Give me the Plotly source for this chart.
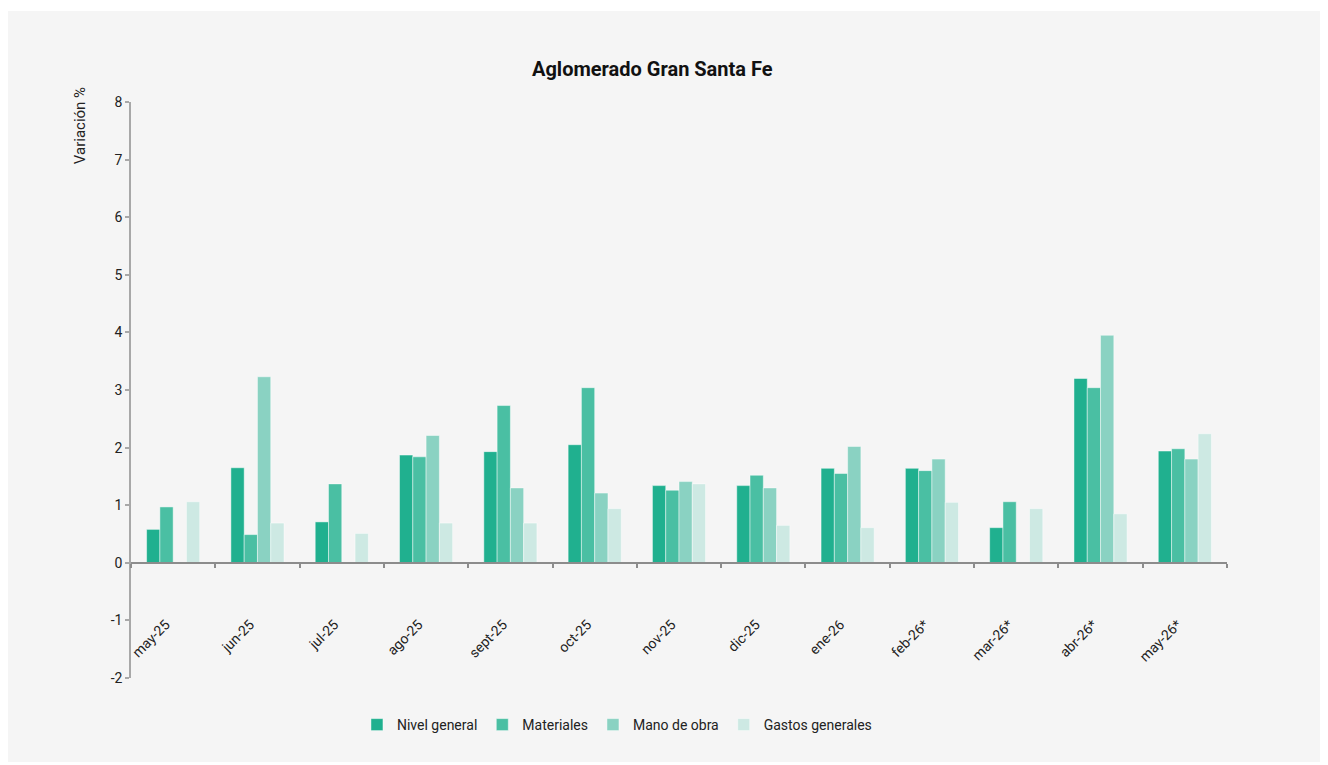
import plotly.graph_objects as go

categorias = ["may-25", "jun-25", "jul-25", "ago-25", "sept-25", "oct-25", "nov-25",
              "dic-25", "ene-26", "feb-26*", "mar-26*", "abr-26*", "may-26*"]
nivel_general = [0.58, 1.65, 0.71, 1.87, 1.93, 2.05, 1.34, 1.34, 1.64, 1.64, 0.61, 3.20, 1.94]
materiales = [0.97, 0.49, 1.37, 1.84, 2.73, 3.04, 1.26, 1.52, 1.55, 1.60, 1.06, 3.04, 1.98]
mano_de_obra = [None, 3.23, None, 2.21, 1.30, 1.21, 1.41, 1.30, 2.02, 1.80, None, 3.95, 1.80]
gastos_generales = [1.06, 0.69, 0.51, 0.69, 0.69, 0.94, 1.37, 0.65, 0.61, 1.05, 0.94, 0.85, 2.24]
y_ticks = [-2, -1, 0, 1, 2, 3, 4, 5, 6, 7, 8]
y_tick_labels = ["-2", "-1", "0", "1", "2", "3", "4", "5", "6", "7", "8"]

series = [
    ("Nivel general", nivel_general, "#20B08F"),
    ("Materiales", materiales, "#4ABFA3"),
    ("Mano de obra", mano_de_obra, "#8AD2C2"),
    ("Gastos generales", gastos_generales, "#CDE9E3"),
]

fig = go.Figure()
for name, vals, color in series:
    fig.add_trace(go.Bar(
        x=categorias, y=vals, name=name,
        marker=dict(color=color, line=dict(color="rgba(255,255,255,0.45)", width=1)),
    ))

FONT = "Roboto"
fig.update_layout(
    width=1320, height=757,
    margin=dict(l=123, r=101, t=94, b=87),
    paper_bgcolor="white",
    plot_bgcolor="rgba(0,0,0,0)",
    font=dict(family=FONT, size=14, color="#222222"),
    barmode="group", bargap=0.37, bargroupgap=0,
    showlegend=True,
    legend=dict(orientation="h", x=0.4434, y=-0.0816, xanchor="center", yanchor="middle",
                font=dict(size=14, color="#222222"), itemwidth=30, traceorder="normal",
                bgcolor="rgba(0,0,0,0)"),
    shapes=[dict(type="rect", xref="paper", yref="paper",
                 x0=-0.1122, x1=1.0858, y0=-0.1458, y1=1.158,
                 fillcolor="#F5F5F5", line=dict(width=0), layer="below")],
    annotations=[
        dict(text="<b>Aglomerado Gran Santa Fe</b>", xref="paper", yref="paper",
             x=0.476, y=1.057, showarrow=False, xanchor="center", yanchor="middle",
             font=dict(size=20, color="#111111", family=FONT)),
        dict(text="Variación %", xref="paper", yref="paper", textangle=-90,
             x=-0.0465, y=0.958, showarrow=False, xanchor="center", yanchor="middle",
             font=dict(size=15, color="#222222", family=FONT)),
    ],
)

fig.update_xaxes(
    anchor="free", position=0.2,
    showline=True, linecolor="#8C8C8C", linewidth=1.5,
    ticks="outside", tickson="boundaries", ticklen=4, tickcolor="#8C8C8C", tickwidth=1.5,
    tickangle=-45, tickfont=dict(size=14, color="#222222"),
    tickvals=categorias, ticktext=[c + "\u00a0\u00a0\u00a0" for c in categorias],
    ticklabelstandoff=40,
    showgrid=False, zeroline=False,
)
fig.update_yaxes(
    range=[-2, 8], tickvals=y_ticks, ticktext=y_tick_labels,
    showline=True, linecolor="#A8A8A8", linewidth=1.5,
    ticks="outside", ticklen=4, tickcolor="#A8A8A8", tickwidth=1.5,
    tickfont=dict(size=14, color="#222222"),
    showgrid=False, zeroline=False,
)

fig.write_html("out.html")
